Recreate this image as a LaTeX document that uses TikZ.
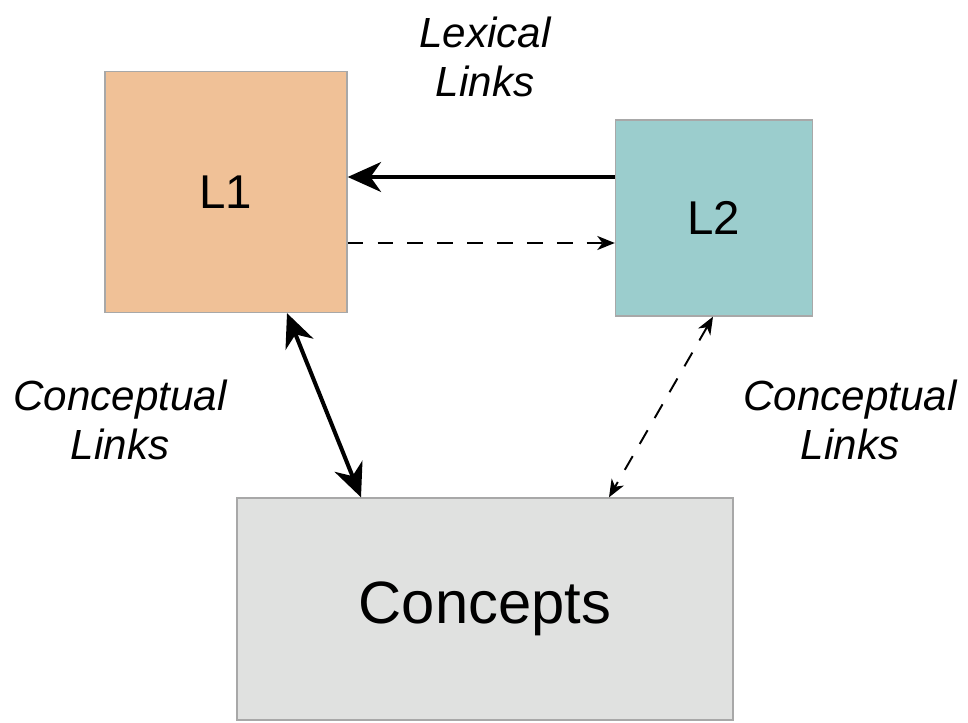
\documentclass[tikz,border=0pt]{standalone}
\usepackage{fontspec}
\setmainfont{Liberation Sans}
\usetikzlibrary{arrows.meta}

\definecolor{peach}{HTML}{F0C197}
\definecolor{teal2}{HTML}{9BCDCD}
\definecolor{greybox}{HTML}{E0E1E0}
\definecolor{edgegrey}{HTML}{A8A8A8}

\tikzset{
	bigtip/.tip={Stealth[length=19pt,width=17pt,inset=6pt]},
	smalltip/.tip={Stealth[length=10pt,width=8pt,inset=3pt]}
}

\begin{document}
\begin{tikzpicture}[x=0.02cm,y=-0.02cm,
		box/.style={draw=edgegrey,line width=0.8pt,inner sep=0pt},
		lbl/.style={align=center,font=\itshape\fontsize{24}{28}\selectfont},
		strong/.style={line width=2.3pt},
		weak/.style={line width=1.1pt,dash pattern=on 9pt off 8pt}]
		\useasboundingbox (0,0) rectangle (968,723);
		
		% boxes
		\node[box,fill=peach,minimum width=4.84cm,minimum height=4.82cm,font=\fontsize{27}{30}\selectfont] (L1) at (226,192) {L1};
		\node[box,fill=teal2,minimum width=3.94cm,minimum height=3.92cm,font=\fontsize{27}{30}\selectfont] (L2) at (714,218) {L2};
		\node[box,fill=greybox,minimum width=9.92cm,minimum height=4.44cm,font=\fontsize{34}{38}\selectfont] (C) at (485,609) {Concepts};
		
		% labels
		\node[lbl] (lex) at (485,57) {Lexical\\Links};
		\node[lbl] (cl1) at (120,420) {Conceptual\\Links};
		\node[lbl] (cl2) at (850,420) {Conceptual\\Links};
		
		% links
		\draw[strong,-bigtip] (L2.west |- 0,177) -- (L1.east |- 0,177);
		\draw[weak,-smalltip] (L1.east |- 0,243) -- (L2.west |- 0,243);
		\draw[strong,bigtip-bigtip] (287,0 |- L1.south) -- (361,0 |- C.north);
		\draw[weak,smalltip-smalltip] (713,0 |- L2.south) -- (609,0 |- C.north);
\end{tikzpicture}
\end{document}
